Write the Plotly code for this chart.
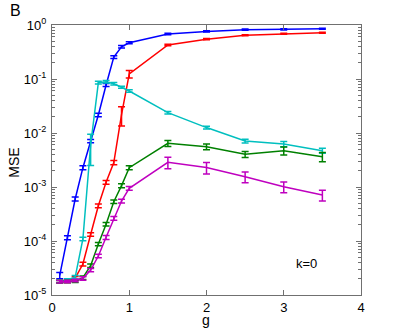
import plotly.graph_objects as go

g = [0.1, 0.2, 0.3, 0.4, 0.5, 0.6, 0.7, 0.8, 0.9, 1.0, 1.5, 2.0, 2.5, 3.0, 3.5]

mse_blue = [2.3e-5, 1.15e-4, 6.0e-4, 2.28e-3, 7.1e-3, 0.0216, 0.0774, 0.255, 0.396, 0.47,
            0.68, 0.76, 0.82, 0.83, 0.855]
err_blue = [0.3e-5, 0.1e-4, 0.5e-4, 0.2e-3, 0.5e-3, 0.0015, 0.005, 0.015, 0.02, 0.02,
            0.02, 0.02, 0.02, 0.02, 0.02]

mse_red = [1.78e-5, 1.8e-5, 2.06e-5, 3.75e-5, 1.32e-4, 4.5e-4, 1.22e-3, 2.84e-3, 0.022, 0.124,
           0.426, 0.546, 0.644, 0.69, 0.72]
err_red = [0.1e-5, 0.1e-5, 0.15e-5, 0.3e-5, 0.1e-4, 0.35e-4, 1.0e-4, 2.5e-4, 0.0085, 0.02,
           0.015, 0.015, 0.015, 0.015, 0.015]

mse_cyan = [1.78e-5, 1.9e-5, 2.15e-5, 1.09e-4, 6.0e-3, 0.0854, 0.089, 0.0818, 0.0702, 0.06,
            0.0238, 0.0126, 7.1e-3, 6.25e-3, 4.7e-3]
err_cyan = [0.1e-5, 0.1e-5, 0.15e-5, 0.08e-4, 3.5e-3, 0.005, 0.005, 0.004, 0.003, 0.003,
            0.0012, 0.0008, 0.6e-3, 0.7e-3, 0.5e-3]

mse_green = [1.76e-5, 1.78e-5, 1.8e-5, 2.09e-5, 3.49e-5, 8.8e-5, 2.04e-4, 5.35e-4, 1.06e-3, 2.28e-3,
             6.45e-3, 5.57e-3, 4.03e-3, 4.7e-3, 3.64e-3]
err_green = [0.1e-5, 0.1e-5, 0.1e-5, 0.15e-5, 0.25e-5, 0.6e-5, 0.15e-4, 0.4e-4, 0.9e-4, 0.2e-3,
             0.8e-3, 0.7e-3, 0.5e-3, 0.8e-3, 0.7e-3]

mse_magenta = [1.76e-5, 1.78e-5, 1.86e-5, 2.02e-5, 2.9e-5, 5.27e-5, 1.17e-4, 2.63e-4, 5.5e-4, 9.46e-4,
               2.87e-3, 2.3e-3, 1.55e-3, 1.01e-3, 7.1e-4]
err_magenta = [0.1e-5, 0.1e-5, 0.1e-5, 0.15e-5, 0.2e-5, 0.4e-5, 0.1e-4, 0.2e-4, 0.45e-4, 0.8e-4,
               0.7e-3, 0.55e-3, 0.35e-3, 0.23e-3, 0.16e-3]

ytick_vals = [1e-5, 1e-4, 1e-3, 1e-2, 1e-1, 1e0]
ytick_text = ['10<sup>-5</sup>', '10<sup>-4</sup>', '10<sup>-3</sup>',
              '10<sup>-2</sup>', '10<sup>-1</sup>', '10<sup>0</sup>']
minor_vals = [m * 10.0 ** e for e in range(-5, 0) for m in range(2, 10)]

series = [
    (mse_blue, err_blue, '#0000ff'),
    (mse_red, err_red, '#ff0000'),
    (mse_cyan, err_cyan, '#00bfbf'),
    (mse_green, err_green, '#008000'),
    (mse_magenta, err_magenta, '#bf00bf'),
]

fig = go.Figure()
for y, e, c in series:
    fig.add_trace(go.Scatter(
        x=g, y=y, mode='lines',
        line=dict(color=c, width=1.5),
        error_y=dict(type='data', array=e, visible=True, color=c, thickness=1.5, width=3.5),
        showlegend=False,
    ))

axis_col = '#707070'
fig.update_layout(
    template='none',
    width=399, height=332,
    margin=dict(l=52, r=38, t=25, b=37, autoexpand=False),
    paper_bgcolor='white', plot_bgcolor='white',
    font=dict(family='Liberation Sans, Arial, sans-serif', size=13, color='black'),
    xaxis=dict(range=[0, 4], tickvals=[0, 1, 2, 3, 4], ticks='inside', ticklen=5,
               tickcolor=axis_col, showline=True, linecolor=axis_col, linewidth=1,
               mirror='allticks', showgrid=False, zeroline=False, automargin=False),
    yaxis=dict(type='log', range=[-5, 0], tickvals=ytick_vals, ticktext=ytick_text,
               ticks='inside', ticklen=5, tickcolor=axis_col, showline=True,
               linecolor=axis_col, linewidth=1, mirror='allticks', showgrid=False,
               zeroline=False, ticklabelstandoff=2, automargin=False,
               minor=dict(tickvals=minor_vals, ticks='inside', ticklen=3,
                          tickcolor=axis_col, showgrid=False)),
    annotations=[
        dict(text='B', xref='paper', yref='paper', x=-0.117, y=1.052, showarrow=False,
             font=dict(size=16), xanchor='center', yanchor='middle'),
        dict(text='k=0', xref='x', yref='paper', x=3.3, y=0.115, showarrow=False,
             font=dict(size=13), xanchor='center', yanchor='middle'),
        dict(text='g', xref='paper', yref='paper', x=0.498, y=-0.094, showarrow=False,
             font=dict(size=14), xanchor='center', yanchor='middle'),
        dict(text='MSE', xref='paper', yref='paper', x=-0.123, y=0.49, showarrow=False,
             font=dict(size=14), textangle=-90, xanchor='center', yanchor='middle'),
    ],
)

fig.write_html("out.html", config={'displayModeBar': False},
               post_script="document.body.style.margin='0';")
